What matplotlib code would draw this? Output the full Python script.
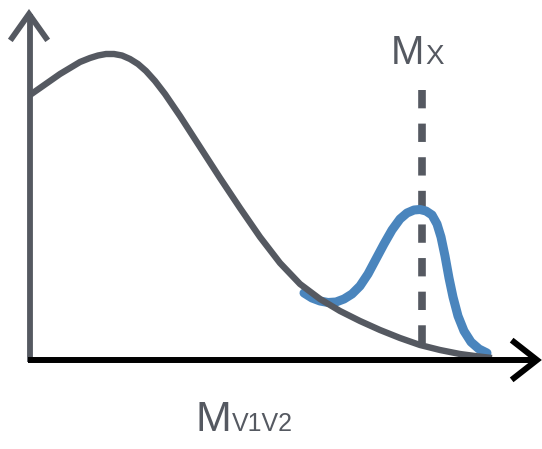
import numpy as np
import matplotlib
matplotlib.use("Agg")
from matplotlib import pyplot as plt

# schematic curves in pixel units (x right, y down)
bkg_x = [30, 40, 50, 60, 70, 80, 90, 98, 106, 114, 122, 130, 138, 146, 155,
         165, 180, 200, 220, 240, 260, 280, 300, 320, 340, 360, 380, 400,
         420, 440, 460, 475, 492]
bkg_y = [95, 88, 81, 74, 68, 62, 58, 55.5, 54, 54, 55.5, 59, 64, 71, 81,
         94, 116, 147, 178, 208, 237, 263, 284, 299, 311, 321, 330, 338,
         345, 350, 354, 356, 358]

sig_x = [304, 312, 320, 328, 336, 344, 352, 360, 368, 376, 384, 392, 400, 407,
         414, 420, 426, 432, 437, 441, 445, 449, 453, 458, 464, 471, 479, 487]
sig_y = [293, 298, 301, 302.5, 302, 299, 294, 286, 274, 259, 244, 230, 219, 213,
         210, 209.5, 211, 215, 224, 237, 256, 278, 297, 316, 331, 342, 349, 353]

mx_pos = 422
gray = '#555961'
blue = '#4a85bd'

fig = plt.figure(figsize=(5.42, 4.49), dpi=100)
ax = fig.add_axes([0, 0, 1, 1])
ax.set_xlim(0, 542)
ax.set_ylim(449, 0)
ax.axis('off')

# y axis with open arrow head
ax.plot([30, 30], [362, 14], color=gray, lw=4.2, solid_capstyle='butt')
ax.plot([12, 29, 46], [38, 14, 38], color=gray, lw=4.2, solid_joinstyle='miter')

# dashed M_X marker
ax.plot([mx_pos, mx_pos], [90, 362], color=gray, lw=5.5, ls=(0, (2.4, 2.0)),
        solid_capstyle='butt')

ax.plot(sig_x, sig_y, color=blue, lw=6.5, solid_capstyle='round', solid_joinstyle='round')
ax.plot(bkg_x, bkg_y, color=gray, lw=4.6, solid_capstyle='butt', solid_joinstyle='round')

# x axis with open arrow head
ax.plot([28, 536], [360, 360], color='black', lw=4.3, solid_capstyle='butt')
ax.plot([514, 537, 514], [342, 360, 378], color='black', lw=4.3, solid_joinstyle='miter')

font = 'Liberation Sans'
ax.text(231, 431, 'M', fontsize=31, color=gray, ha='right', va='baseline', family=font)
ax.text(232, 431, 'V1V2', fontsize=18, color=gray, ha='left', va='baseline', family=font)
ax.text(424, 64, 'M', fontsize=29, color=gray, ha='right', va='baseline', family=font)
ax.text(425, 64, 'X', fontsize=20, color=gray, ha='left', va='baseline', family=font)

fig.savefig('out.png', dpi=100)
